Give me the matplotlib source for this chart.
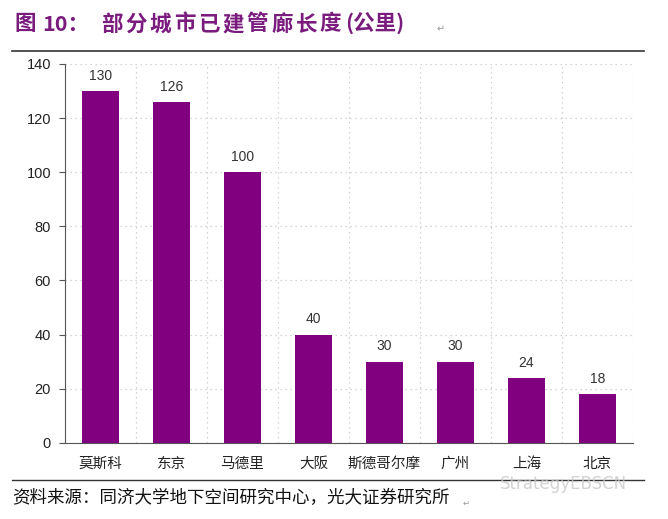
import numpy as np
import matplotlib.pyplot as plt

plt.rcParams['font.family'] = ['Noto Sans CJK SC', 'DejaVu Sans']

cities = ['莫斯科', '东京', '马德里', '大阪', '斯德哥尔摩', '广州', '上海', '北京']
lengths = [130, 126, 100, 40, 30, 30, 24, 18]
y_ticks = [0, 20, 40, 60, 80, 100, 120, 140]

title_head = '图'
title_num = '10：'
title_body = '部分城市已建管廊长度'
title_tail = '(公里)'
source = '资料来源：同济大学地下空间研究中心，光大证券研究所'

bar_color = '#800080'
title_color = '#7a1c7d'

W, H = 668, 519
fig = plt.figure(figsize=(W / 100, H / 100), dpi=100)
ax = fig.add_axes([0.0973, 0.147, 0.8503, 0.7297])

x = np.arange(len(cities))
ax.bar(x, lengths, width=0.52, color=bar_color, zorder=3)

for xi, v in zip(x, lengths):
    ax.annotate(str(v), (xi, v), xytext=(0, 11), textcoords='offset points',
                ha='center', va='center', fontsize=10, color='#333333',
                family='Liberation Sans')

ax.set_xlim(-0.5, len(cities) - 0.5)
ax.set_ylim(0, 140)
ax.set_yticks(y_ticks)
ax.set_yticklabels([str(t) for t in y_ticks], fontsize=10.5, color='#222222',
                   family='Liberation Sans')
ax.set_xticks(x)
ax.set_xticklabels(cities, fontsize=10.5, color='#222222')
ax.tick_params(axis='x', length=0, pad=10)
ax.tick_params(axis='y', length=4, width=0.8, color='#555555', pad=6)

# dotted grid: horizontal at ticks, vertical at category boundaries
ax.set_xticks(np.arange(len(cities)) + 0.5, minor=True)
ax.tick_params(axis='x', which='minor', length=0)
ax.grid(axis='y', which='major', linestyle=(0, (1, 3)), color='#c8c8c8', linewidth=0.9, zorder=0)
ax.grid(axis='x', which='minor', linestyle=(0, (1, 3)), color='#c8c8c8', linewidth=0.9, zorder=0)

for s in ['top', 'right']:
    ax.spines[s].set_visible(False)
ax.spines['left'].set_color('#555555')
ax.spines['bottom'].set_color('#555555')

# title, set character by character to get the wide spacing
ty = 1 - 24 / H
tkw = dict(fontsize=15.5, fontweight='bold', color=title_color, va='center', ha='left')
fig.text(14 / W, ty, title_head, **tkw)
fig.text(42 / W, ty, title_num, **tkw)
for i, ch in enumerate(title_body):
    fig.text((101 + 24.3 * i) / W, ty, ch, **tkw)
fig.text(345 / W, ty, title_tail, **tkw)
fig.text(437 / W, 1 - 29 / H, '↵', fontsize=7, color='#999999', va='center', family='DejaVu Sans')

fig.add_artist(plt.Line2D([12 / W, 644 / W], [1 - 51 / H, 1 - 51 / H], color='#333333', linewidth=1.2))
fig.add_artist(plt.Line2D([12 / W, 644 / W], [1 - 480 / H, 1 - 480 / H], color='#333333', linewidth=1.0))

fig.text(12 / W, 1 - 498 / H, source, fontsize=12.6, color='#111111', va='center', ha='left')
fig.text(463 / W, 1 - 503 / H, '↵', fontsize=6, color='#999999', va='center', family='DejaVu Sans')
fig.text(500 / W, 1 - 484 / H, 'StrategyEBSCN', fontsize=12, color='#c8c8c8', alpha=0.8,
         va='center', ha='left', family='DejaVu Sans')

fig.savefig('out.png', dpi=100)
